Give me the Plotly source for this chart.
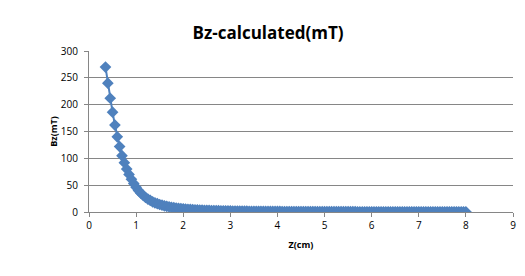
import plotly.graph_objects as go

z_cm = [
    0.35, 0.40, 0.45, 0.50, 0.55, 0.60, 0.65, 0.70, 0.75, 0.80,
    0.85, 0.90, 0.95, 1.00, 1.05, 1.10, 1.15, 1.20, 1.25, 1.30,
    1.35, 1.40, 1.45, 1.50, 1.55, 1.60, 1.65, 1.70, 1.75, 1.80,
    1.85, 1.90, 1.95, 2.00, 2.05, 2.10, 2.15, 2.20, 2.25, 2.30,
    2.35, 2.40, 2.45, 2.50, 2.55, 2.60, 2.65, 2.70, 2.75, 2.80,
    2.85, 2.90, 2.95, 3.00, 3.05, 3.10, 3.15, 3.20, 3.25, 3.30,
    3.35, 3.40, 3.45, 3.50, 3.55, 3.60, 3.65, 3.70, 3.75, 3.80,
    3.85, 3.90, 3.95, 4.00, 4.05, 4.10, 4.15, 4.20, 4.25, 4.30,
    4.35, 4.40, 4.45, 4.50, 4.55, 4.60, 4.65, 4.70, 4.75, 4.80,
    4.85, 4.90, 4.95, 5.00, 5.05, 5.10, 5.15, 5.20, 5.25, 5.30,
    5.35, 5.40, 5.45, 5.50, 5.55, 5.60, 5.65, 5.70, 5.75, 5.80,
    5.85, 5.90, 5.95, 6.00, 6.05, 6.10, 6.15, 6.20, 6.25, 6.30,
    6.35, 6.40, 6.45, 6.50, 6.55, 6.60, 6.65, 6.70, 6.75, 6.80,
    6.85, 6.90, 6.95, 7.00, 7.05, 7.10, 7.15, 7.20, 7.25, 7.30,
    7.35, 7.40, 7.45, 7.50, 7.55, 7.60, 7.65, 7.70, 7.75, 7.80,
    7.85, 7.90, 7.95, 8.00,
]

bz_mT = [
    270, 240, 212, 186, 162, 140, 122, 105, 92, 80,
    70, 61, 53, 46, 40, 35, 31, 27, 24, 21.5,
    19, 17, 15.5, 14, 12.7, 11.5, 10.5, 9.6, 8.8, 8.1,
    7.5, 6.9, 6.4, 5.9, 5.5, 5.1, 4.8, 4.5, 4.2, 3.9,
    3.7, 3.5, 3.3, 3.1, 2.95, 2.80, 2.66, 2.53, 2.41, 2.30,
    2.20, 2.10, 2.01, 1.93, 1.85, 1.78, 1.71, 1.65, 1.59, 1.53,
    1.48, 1.43, 1.38, 1.34, 1.30, 1.26, 1.22, 1.19, 1.15, 1.12,
    1.09, 1.06, 1.03, 1.00, 0.98, 0.95, 0.93, 0.91, 0.89, 0.87,
    0.85, 0.83, 0.81, 0.79, 0.78, 0.76, 0.74, 0.73, 0.71, 0.70,
    0.69, 0.67, 0.66, 0.65, 0.64, 0.63, 0.61, 0.60, 0.59, 0.58,
    0.57, 0.56, 0.55, 0.54, 0.53, 0.53, 0.52, 0.51, 0.50, 0.49,
    0.49, 0.48, 0.47, 0.46, 0.46, 0.45, 0.44, 0.44, 0.43, 0.43,
    0.42, 0.41, 0.41, 0.40, 0.40, 0.39, 0.39, 0.38, 0.38, 0.37,
    0.37, 0.36, 0.36, 0.35, 0.35, 0.35, 0.34, 0.34, 0.33, 0.33,
    0.33, 0.32, 0.32, 0.31, 0.31, 0.31, 0.30, 0.30, 0.30, 0.29,
    0.29, 0.29, 0.28, 0.28,
]

x_ticks = [0, 1, 2, 3, 4, 5, 6, 7, 8, 9]
y_ticks = [0, 50, 100, 150, 200, 250, 300]

color = "#4F81BD"
font_family = "Open Sans, Liberation Sans, sans-serif"

fig = go.Figure(
    go.Scatter(
        x=z_cm, y=bz_mT, mode="lines+markers",
        line=dict(color=color, width=2),
        marker=dict(symbol="diamond", size=9, color=color),
        showlegend=False,
    )
)

fig.update_layout(
    width=517, height=268,
    margin=dict(l=81, r=9, t=43, b=64),
    paper_bgcolor="white", plot_bgcolor="white",
    title=dict(text="<b>Bz-calculated(mT)</b>", x=0.503, xanchor="center",
               y=0.907, yanchor="middle",
               font=dict(family=font_family, size=17, color="black")),
    font=dict(family=font_family, size=10, color="black"),
)

fig.update_xaxes(
    range=[0, 9], tickvals=x_ticks, ticktext=[str(v) for v in x_ticks],
    showgrid=False, zeroline=False,
    showline=True, linecolor="#868686", linewidth=1,
    ticks="outside", ticklen=4, tickcolor="#868686",
    tickfont=dict(size=10),
    title=dict(text="<b>Z(cm)</b>", font=dict(size=9), standoff=10),
)
fig.update_yaxes(
    range=[0, 300], tickvals=y_ticks, ticktext=[str(v) for v in y_ticks],
    showgrid=True, gridcolor="#868686", gridwidth=1, zeroline=False,
    showline=True, linecolor="#868686", linewidth=1,
    ticks="outside", ticklen=4, tickcolor="#868686",
    ticklabelstandoff=4,
    tickfont=dict(size=10),
    title=dict(text="<b>Bz(mT)</b>", font=dict(size=9), standoff=1),
)

fig.write_html("out.html")
